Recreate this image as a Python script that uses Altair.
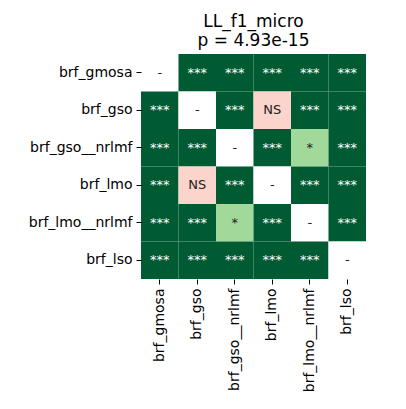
import altair as alt
import pandas as pd

labels = ["brf_gmosa", "brf_gso", "brf_gso__nrlmf", "brf_lmo", "brf_lmo__nrlmf", "brf_lso"]
matrix = [
    ["-", "***", "***", "***", "***", "***"],
    ["***", "-", "***", "NS", "***", "***"],
    ["***", "***", "-", "***", "*", "***"],
    ["***", "NS", "***", "-", "***", "***"],
    ["***", "***", "*", "***", "-", "***"],
    ["***", "***", "***", "***", "***", "-"],
]
rows = []
for i, r in enumerate(labels):
    for j, c in enumerate(labels):
        rows.append({"row": r, "col": c, "sig": matrix[i][j]})
df = pd.DataFrame(rows)

color = alt.Color("sig:N", scale=alt.Scale(domain=["-", "***", "*", "NS"],
                  range=["#ffffff", "#005a32", "#a1d99b", "#fbd5cc"]), legend=None)
x = alt.X("col:N", sort=labels, title=None,
          scale=alt.Scale(paddingInner=0, paddingOuter=0),
          axis=alt.Axis(labelAngle=-90, labelFontSize=14, labelFont="DejaVu Sans", labelColor="black",
                        domain=False, tickColor="black", labelPadding=4))
y = alt.Y("row:N", sort=labels, title=None,
          scale=alt.Scale(paddingInner=0, paddingOuter=0),
          axis=alt.Axis(labelFontSize=14, labelFont="DejaVu Sans", labelColor="black",
                        domain=False, tickColor="black", labelPadding=4))
base = alt.Chart(df).encode(x=x, y=y)
rect = base.mark_rect(strokeWidth=0).encode(color=color)
text = base.mark_text(font="DejaVu Sans", fontSize=13).encode(
    text="sig:N",
    color=alt.condition(alt.datum.sig == "***", alt.value("white"), alt.value("#222222")))
chart = (rect + text).properties(
    width=225, height=225,
    padding={"left": 20, "top": 5, "right": 5, "bottom": 5},
    title=alt.TitleParams(["LL_f1_micro", "p = 4.93e-15"], font="DejaVu Sans", fontSize=17,
                          fontWeight="normal", color="black", offset=4)
).configure_view(stroke=None)
chart.save("out.html", embed_options={"renderer": "svg", "actions": False})
